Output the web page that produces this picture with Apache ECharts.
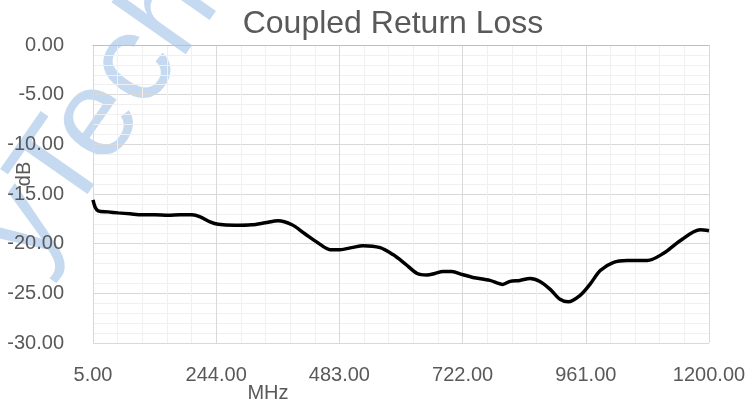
<!DOCTYPE html>
<html>
<head>
<meta charset="utf-8">
<script src="https://cdn.jsdelivr.net/npm/echarts@6/dist/echarts.min.js"></script>
<style>
  html, body { margin: 0; padding: 0; background: #fff; }
  #chart { width: 752px; height: 408px; }
</style>
</head>
<body>
<div id="chart"></div>
<script>
// frequency points (MHz) and coupled return loss (dB)
const freqMHz = [5, 9, 15, 34, 54, 77, 100, 125, 151, 174, 197, 213, 232, 248, 280, 313, 339, 364, 391, 416,
  441, 465, 484, 507, 529, 562, 587, 610, 634, 653, 668, 684, 701, 721, 742, 775, 800, 814, 833, 853,
  872, 892, 911, 927, 950, 969, 989, 1014, 1041, 1080, 1111, 1144, 1183, 1200]
const lossDb = [-15.6, -16.3, -16.7, -16.8, -16.9, -17.0, -17.1, -17.1, -17.15, -17.1, -17.1, -17.3, -17.8, -18.05, -18.15, -18.1, -17.9, -17.7, -18.1, -19.0,
  -19.9, -20.6, -20.6, -20.4, -20.2, -20.4, -21.1, -22.0, -23.0, -23.15, -23.0, -22.8, -22.8, -23.1, -23.4, -23.7, -24.1, -23.8, -23.7, -23.5,
  -23.8, -24.6, -25.6, -25.85, -25.2, -24.1, -22.7, -21.9, -21.7, -21.7, -21.0, -19.7, -18.6, -18.7]
const xStart = 5
const xTicks = [5, 244, 483, 722, 961, 1200]
const yTicks = [0, -5, -10, -15, -20, -25, -30]

const font = 'Liberation Sans'
const textColor = '#595959'

const chart = echarts.init(document.getElementById('chart'))

// x axis runs as offset from 5 MHz so the 239 MHz steps line up with min
const seriesData = freqMHz.map((f, i) => [f - xStart, lossDb[i]])
const xSpan = xTicks[xTicks.length - 1] - xStart
const xStep = xTicks[1] - xTicks[0]

const option = {
  backgroundColor: '#fff',
  animation: false,
  title: {
    text: 'Coupled Return Loss',
    left: 388,
    top: 3,
    textAlign: 'center',
    textStyle: {
      fontFamily: font,
      fontSize: 32,
      fontWeight: 'normal',
      color: textColor
    }
  },
  grid: {
    left: 93,
    right: 43,
    top: 45,
    bottom: 65
  },
  graphic: [
    {
      // watermark
      type: 'text',
      x: 5,
      y: 252,
      rotation: 55 * Math.PI / 180,
      z: 0,
      style: {
        text: 'yTech',
        fontFamily: font,
        fontSize: 125,
        fill: 'rgba(140, 180, 228, 0.5)',
        textAlign: 'left',
        textVerticalAlign: 'middle'
      }
    },
    {
      type: 'text',
      x: 268,
      y: 393,
      z: 10,
      style: {
        text: 'MHz',
        fontFamily: font,
        fontSize: 20,
        fill: textColor,
        textAlign: 'center',
        textVerticalAlign: 'middle'
      }
    },
    {
      type: 'text',
      x: 24,
      y: 174,
      rotation: Math.PI / 2,
      z: 10,
      style: {
        text: 'dB',
        fontFamily: font,
        fontSize: 20,
        fill: textColor,
        textAlign: 'center',
        textVerticalAlign: 'middle'
      }
    }
  ],
  xAxis: {
    type: 'value',
    min: 0,
    max: xSpan,
    interval: xStep,
    axisLine: { show: true, lineStyle: { color: '#bfbfbf', width: 1 } },
    axisTick: { show: false },
    axisLabel: {
      margin: 22,
      fontFamily: font,
      fontSize: 20,
      color: textColor,
      formatter: v => (v + xStart).toFixed(2)
    },
    splitLine: { show: true, lineStyle: { color: '#d9d9d9', width: 1 } },
    minorTick: { show: false, splitNumber: 5 },
    minorSplitLine: { show: true, lineStyle: { color: '#f0f0f0', width: 1 } }
  },
  yAxis: {
    type: 'value',
    min: yTicks[yTicks.length - 1],
    max: yTicks[0],
    interval: 5,
    axisLine: { show: false },
    axisTick: { show: false },
    axisLabel: {
      margin: 29,
      fontFamily: font,
      fontSize: 20,
      color: textColor,
      formatter: v => v.toFixed(2)
    },
    splitLine: { show: true, lineStyle: { color: '#d9d9d9', width: 1 } },
    minorTick: { show: false, splitNumber: 5 },
    minorSplitLine: { show: true, lineStyle: { color: '#f0f0f0', width: 1 } }
  },
  series: [
    {
      name: 'Coupled Return Loss',
      type: 'line',
      data: seriesData,
      showSymbol: false,
      smooth: 0.3,
      z: 5,
      lineStyle: {
        color: '#000',
        width: 3.5
      }
    }
  ]
}

chart.setOption(option)
</script>
</body>
</html>
